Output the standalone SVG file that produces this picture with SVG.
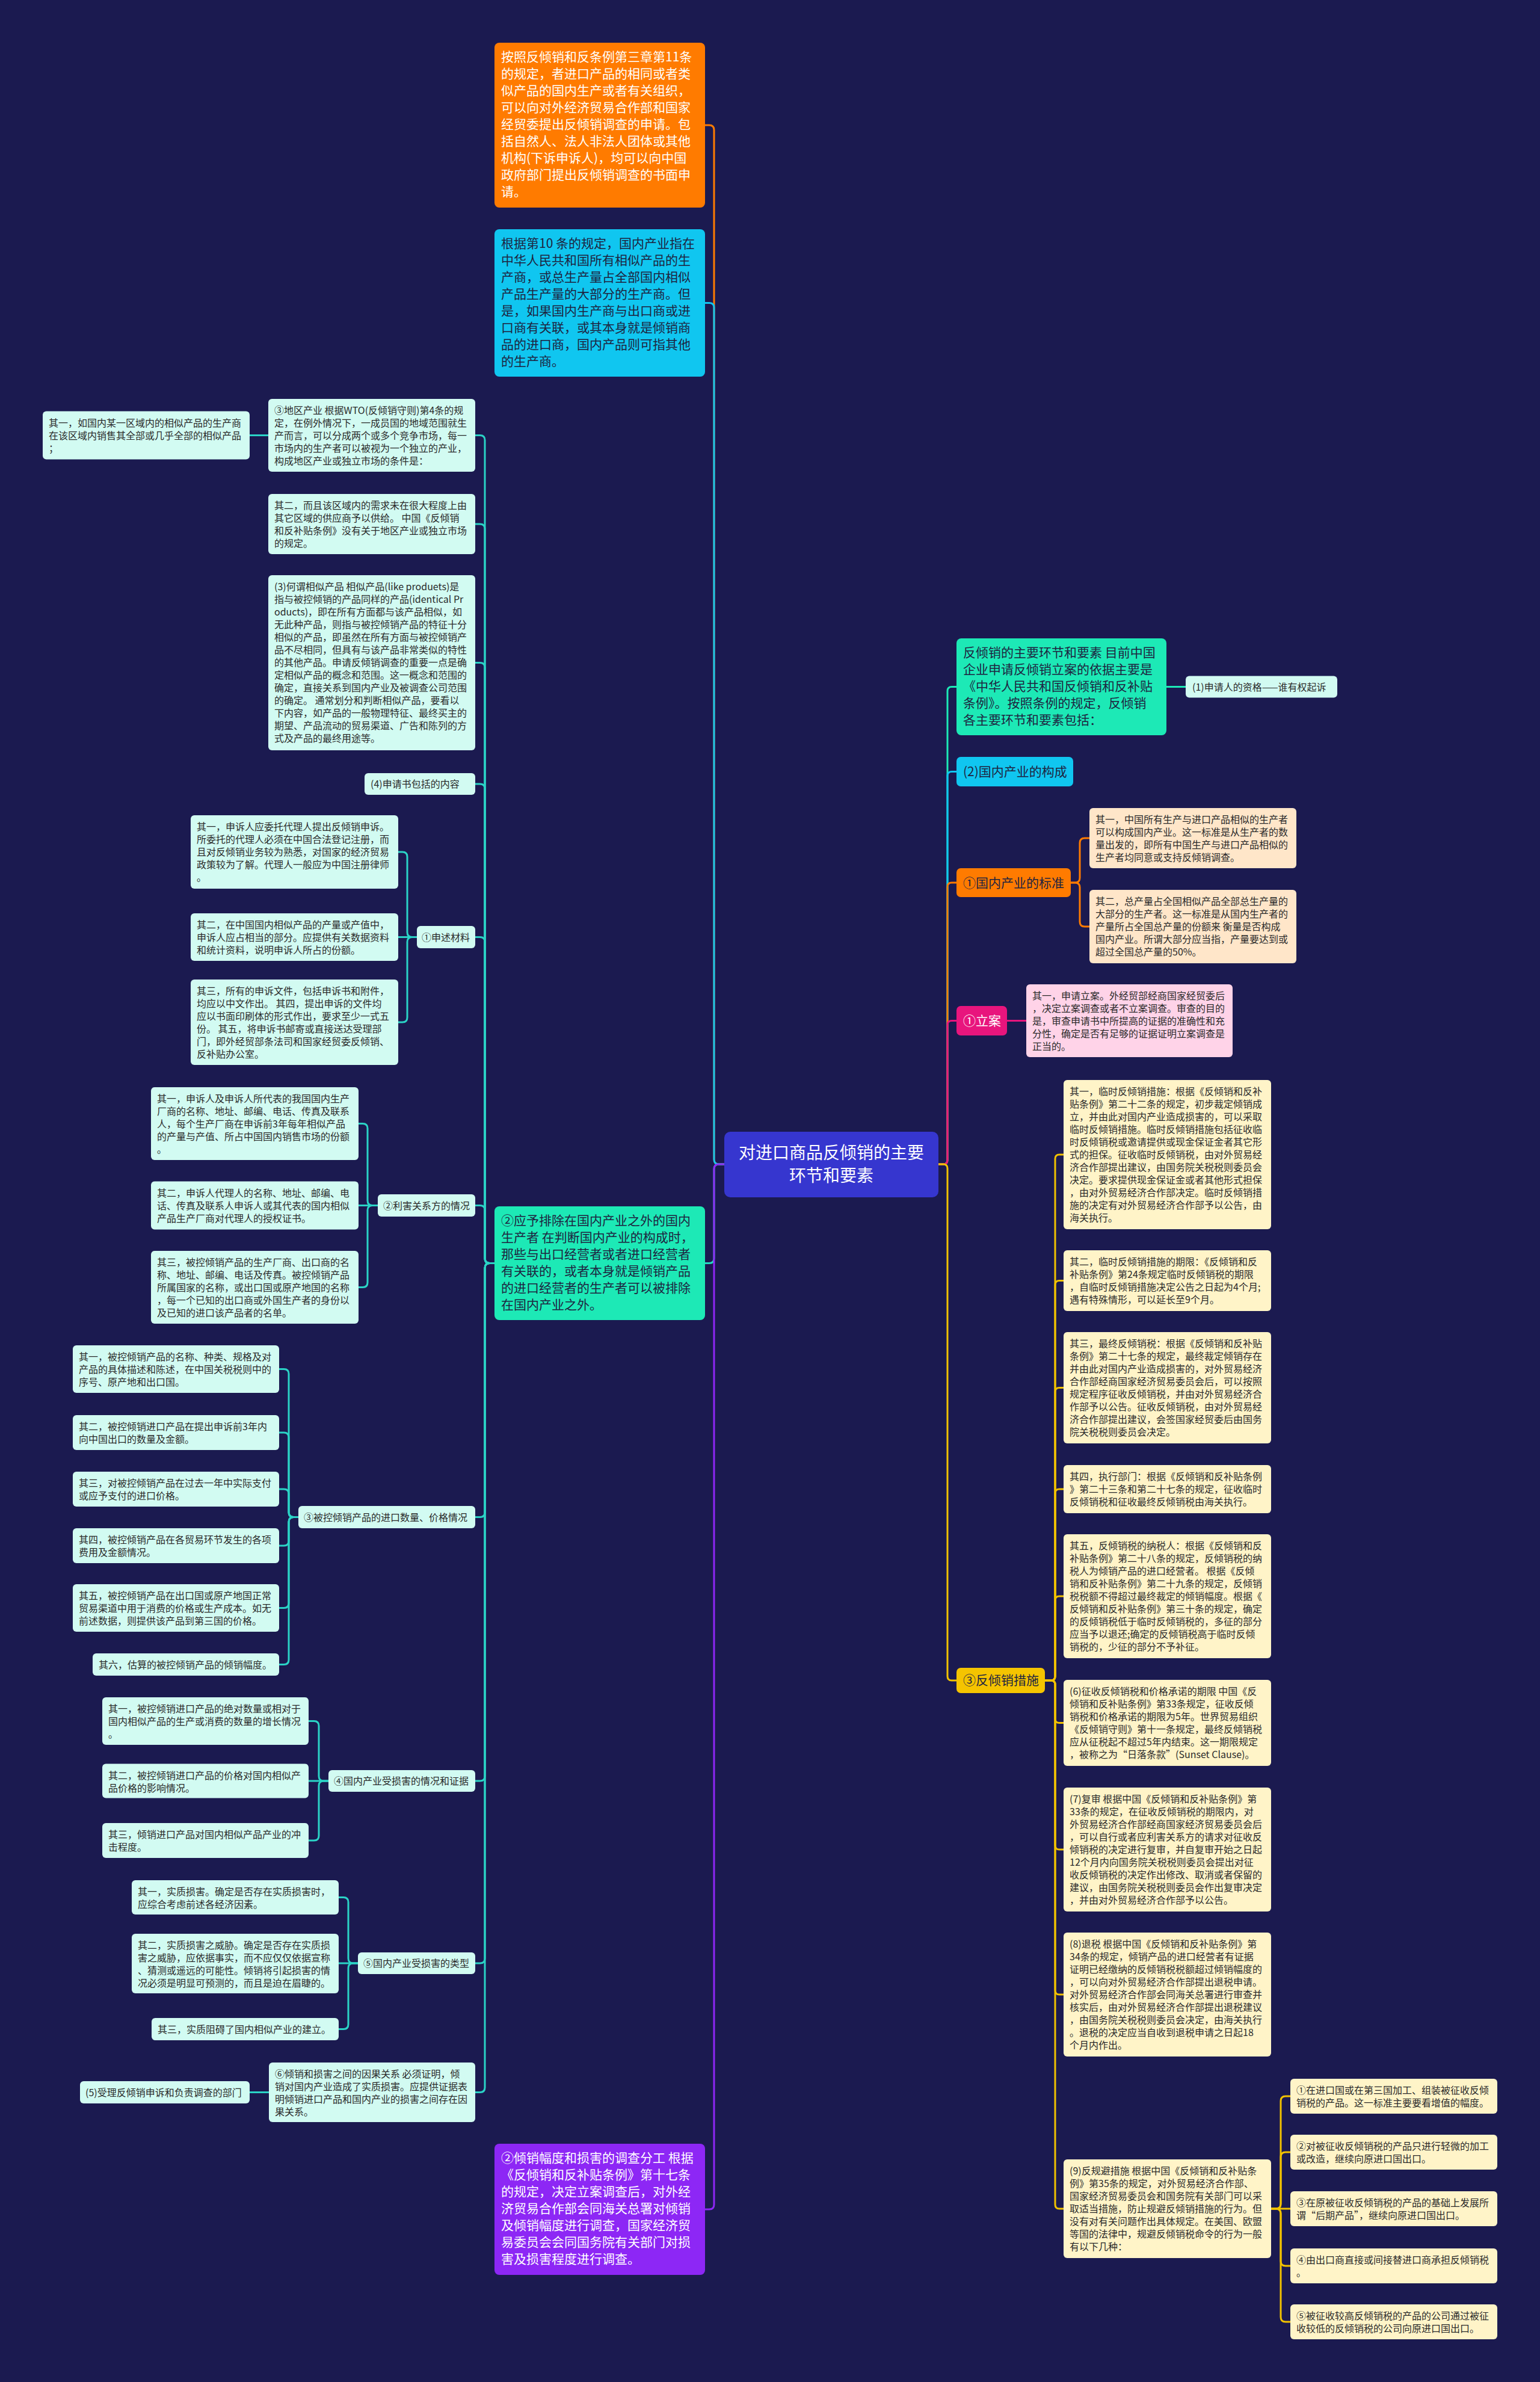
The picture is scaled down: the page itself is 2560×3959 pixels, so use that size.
<svg xmlns="http://www.w3.org/2000/svg" width="2560" height="3959" viewBox="0 0 2560 3959">
<style>
.ln{fill:none;stroke-width:3;stroke-linecap:round;stroke-linejoin:round}
.cOr{stroke:#ff7b00}.cBl{stroke:#10c6f0}.cGr{stroke:#22dcc0}.cPu{stroke:#8d27f5}.cTe{stroke:#2bd3c6}.cPk{stroke:#e8157d}.cYe{stroke:#f2c200}.cMi{stroke:#1de9b6}
text{font-family:"Noto Sans CJK SC","Noto Sans",sans-serif}
.t16{font-size:16px;fill:#2a2a2a}
.t21{font-size:21px;fill:#1e2440}
.tc{font-size:28px;fill:#ffffff}
.wt{fill:#ffffff}
.fMint{fill:#d2fbf2}.fPeach{fill:#ffe6c9}.fPinkL{fill:#ffd3e8}.fCream{fill:#fff4c8}
</style>
<rect x="0" y="0" width="2560" height="3959" fill="#1b1a50"/>

<g id="connectors">
<path class="ln cOr" d="M1204,1935 H1195 Q1187,1935 1187,1927 V216 Q1187,208 1179,208 H1172"/>
<path class="ln cBl" d="M1204,1935 H1195 Q1187,1935 1187,1927 V511.5 Q1187,503.5 1179,503.5 H1172"/>
<path class="ln cGr" d="M1204,1935 H1195 Q1187,1935 1187,1943 V2091.5 Q1187,2099.5 1179,2099.5 H1172"/>
<path class="ln cPu" d="M1204,1935 H1195 Q1187,1935 1187,1943 V3664 Q1187,3672 1179,3672 H1172"/>

<path class="ln cTe" d="M822,2099.5 H814 Q806,2099.5 806,2091.5 V731.5 Q806,723.5 798,723.5 H790"/>
<path class="ln cTe" d="M822,2099.5 H814 Q806,2099.5 806,2091.5 V879 Q806,871 798,871 H790"/>
<path class="ln cTe" d="M822,2099.5 H814 Q806,2099.5 806,2091.5 V1109.5 Q806,1101.5 798,1101.5 H790"/>
<path class="ln cTe" d="M822,2099.5 H814 Q806,2099.5 806,2091.5 V1311 Q806,1303 798,1303 H790"/>
<path class="ln cTe" d="M822,2099.5 H814 Q806,2099.5 806,2091.5 V1565.5 Q806,1557.5 798,1557.5 H790"/>
<path class="ln cTe" d="M822,2099.5 H814 Q806,2099.5 806,2091.5 V2011.5 Q806,2003.5 798,2003.5 H790"/>
<path class="ln cTe" d="M822,2099.5 H814 Q806,2099.5 806,2107.5 V2513.5 Q806,2521.5 798,2521.5 H790"/>
<path class="ln cTe" d="M822,2099.5 H814 Q806,2099.5 806,2107.5 V2952 Q806,2960 798,2960 H790"/>
<path class="ln cTe" d="M822,2099.5 H814 Q806,2099.5 806,2107.5 V3255 Q806,3263 798,3263 H790"/>
<path class="ln cTe" d="M822,2099.5 H814 Q806,2099.5 806,2107.5 V3469.5 Q806,3477.5 798,3477.5 H790"/>

<path class="ln cTe" d="M446,723.5 H415"/>
<path class="ln cTe" d="M693,1557.5 H685 Q677,1557.5 677,1549.5 V1424 Q677,1416 669,1416 H662"/>
<path class="ln cTe" d="M693,1557.5 H662"/>
<path class="ln cTe" d="M693,1557.5 H685 Q677,1557.5 677,1565.5 V1691 Q677,1699 669,1699 H662"/>
<path class="ln cTe" d="M628,2003.5 H619 Q611,2003.5 611,1995.5 V1875.5 Q611,1867.5 603,1867.5 H596"/>
<path class="ln cTe" d="M628,2003.5 H596"/>
<path class="ln cTe" d="M628,2003.5 H619 Q611,2003.5 611,2011.5 V2131.5 Q611,2139.5 603,2139.5 H596"/>
<path class="ln cTe" d="M496,2521.5 H488 Q480,2521.5 480,2513.5 V2283.5 Q480,2275.5 472,2275.5 H464"/>
<path class="ln cTe" d="M496,2521.5 H488 Q480,2521.5 480,2513.5 V2389 Q480,2381 472,2381 H464"/>
<path class="ln cTe" d="M496,2521.5 H488 Q480,2521.5 480,2513.5 V2483 Q480,2475 472,2475 H464"/>
<path class="ln cTe" d="M496,2521.5 H488 Q480,2521.5 480,2529.5 V2561 Q480,2569 472,2569 H464"/>
<path class="ln cTe" d="M496,2521.5 H488 Q480,2521.5 480,2529.5 V2664.5 Q480,2672.5 472,2672.5 H464"/>
<path class="ln cTe" d="M496,2521.5 H488 Q480,2521.5 480,2529.5 V2758.5 Q480,2766.5 472,2766.5 H464"/>
<path class="ln cTe" d="M546,2960 H538 Q530,2960 530,2952 V2868.5 Q530,2860.5 522,2860.5 H513"/>
<path class="ln cTe" d="M546,2960 H513"/>
<path class="ln cTe" d="M546,2960 H538 Q530,2960 530,2968 V3051 Q530,3059 522,3059 H513"/>
<path class="ln cTe" d="M595,3263 H587 Q579,3263 579,3255 V3161.5 Q579,3153.5 571,3153.5 H563"/>
<path class="ln cTe" d="M595,3263 H563"/>
<path class="ln cTe" d="M595,3263 H587 Q579,3263 579,3271 V3364.5 Q579,3372.5 571,3372.5 H563"/>
<path class="ln cTe" d="M447,3477.5 H415"/>

<path class="ln cMi" d="M1560,1935 H1568 Q1575,1935 1575,1928 V1148.5 Q1575,1141.5 1582,1141.5 H1590"/>
<path class="ln cBl" d="M1560,1935 H1568 Q1575,1935 1575,1928 V1289.5 Q1575,1282.5 1582,1282.5 H1590"/>
<path class="ln cOr" d="M1560,1935 H1568 Q1575,1935 1575,1928 V1474 Q1575,1467 1582,1467 H1590"/>
<path class="ln cPk" d="M1560,1935 H1568 Q1575,1935 1575,1928 V1703.5 Q1575,1696.5 1582,1696.5 H1590"/>
<path class="ln cYe" d="M1560,1935 H1568 Q1575,1935 1575,1942 V2786 Q1575,2793 1582,2793 H1590"/>

<path class="ln cMi" d="M1939,1141.5 H1971"/>
<path class="ln cOr" d="M1780,1467 H1787 Q1795,1467 1795,1459 V1401 Q1795,1393 1803,1393 H1811"/>
<path class="ln cOr" d="M1780,1467 H1787 Q1795,1467 1795,1475 V1532 Q1795,1540 1803,1540 H1811"/>
<path class="ln cPk" d="M1674,1696.5 H1706"/>

<path class="ln cYe" d="M1737,2793 H1747 Q1754,2793 1754,2786 V1926 Q1754,1919 1761,1919 H1768"/>
<path class="ln cYe" d="M1737,2793 H1747 Q1754,2793 1754,2786 V2135.5 Q1754,2128.5 1761,2128.5 H1768"/>
<path class="ln cYe" d="M1737,2793 H1747 Q1754,2793 1754,2786 V2313.5 Q1754,2306.5 1761,2306.5 H1768"/>
<path class="ln cYe" d="M1737,2793 H1747 Q1754,2793 1754,2786 V2482 Q1754,2475 1761,2475 H1768"/>
<path class="ln cYe" d="M1737,2793 H1747 Q1754,2793 1754,2786 V2660 Q1754,2653 1761,2653 H1768"/>
<path class="ln cYe" d="M1737,2793 H1747 Q1754,2793 1754,2800 V2856.5 Q1754,2863.5 1761,2863.5 H1768"/>
<path class="ln cYe" d="M1737,2793 H1747 Q1754,2793 1754,2800 V3067 Q1754,3074 1761,3074 H1768"/>
<path class="ln cYe" d="M1737,2793 H1747 Q1754,2793 1754,2800 V3308 Q1754,3315 1761,3315 H1768"/>
<path class="ln cYe" d="M1737,2793 H1747 Q1754,2793 1754,2800 V3664 Q1754,3671 1761,3671 H1768"/>

<path class="ln cYe" d="M2113,3671 H2121 Q2129,3671 2129,3663 V3492 Q2129,3484 2137,3484 H2145"/>
<path class="ln cYe" d="M2113,3671 H2121 Q2129,3671 2129,3663 V3585 Q2129,3577 2137,3577 H2145"/>
<path class="ln cYe" d="M2113,3671 H2145"/>
<path class="ln cYe" d="M2113,3671 H2121 Q2129,3671 2129,3679 V3758 Q2129,3766 2137,3766 H2145"/>
<path class="ln cYe" d="M2113,3671 H2121 Q2129,3671 2129,3679 V3851 Q2129,3859 2137,3859 H2145"/>
</g>

<g id="center">
<rect x="1204" y="1881" width="356" height="109" rx="10" fill="#3636cf"/>
<text class="tc" text-anchor="middle"><tspan x="1382" y="1926">对进口商品反倾销的主要</tspan><tspan x="1382" dy="38">环节和要素</tspan></text>
</g>

<g id="L1">
<rect x="822" y="71" width="350" height="274" rx="8" fill="#ff7b00"/>
<text class="t21 wt"><tspan x="833" y="102">按照反倾销和反条例第三章第11条</tspan><tspan x="833" dy="28">的规定，者进口产品的相同或者类</tspan><tspan x="833" dy="28">似产品的国内生产或者有关组织，</tspan><tspan x="833" dy="28">可以向对外经济贸易合作部和国家</tspan><tspan x="833" dy="28">经贸委提出反倾销调查的申请。包</tspan><tspan x="833" dy="28">括自然人、法人非法人团体或其他</tspan><tspan x="833" dy="28">机构(下诉申诉人)，均可以向中国</tspan><tspan x="833" dy="28">政府部门提出反倾销调查的书面申</tspan><tspan x="833" dy="28">请。</tspan></text>
</g>

<g id="L2">
<rect x="822" y="381" width="350" height="245" rx="8" fill="#10c6f0"/>
<text class="t21"><tspan x="833" y="412">根据第10 条的规定，国内产业指在</tspan><tspan x="833" dy="28">中华人民共和国所有相似产品的生</tspan><tspan x="833" dy="28">产商，或总生产量占全部国内相似</tspan><tspan x="833" dy="28">产品生产量的大部分的生产商。但</tspan><tspan x="833" dy="28">是，如果国内生产商与出口商或进</tspan><tspan x="833" dy="28">口商有关联，或其本身就是倾销商</tspan><tspan x="833" dy="28">品的进口商，国内产品则可指其他</tspan><tspan x="833" dy="28">的生产商。</tspan></text>
</g>

<g id="L3">
<rect x="822" y="2005" width="350" height="189" rx="8" fill="#1de9b6"/>
<text class="t21"><tspan x="833" y="2036">②应予排除在国内产业之外的国内</tspan><tspan x="833" dy="28">生产者 在判断国内产业的构成时，</tspan><tspan x="833" dy="28">那些与出口经营者或者进口经营者</tspan><tspan x="833" dy="28">有关联的，或者本身就是倾销产品</tspan><tspan x="833" dy="28">的进口经营者的生产者可以被排除</tspan><tspan x="833" dy="28">在国内产业之外。</tspan></text>
</g>

<g id="L4">
<rect x="822" y="3563" width="350" height="218" rx="8" fill="#8d27f5"/>
<text class="t21 wt"><tspan x="833" y="3594">②倾销幅度和损害的调查分工 根据</tspan><tspan x="833" dy="28">《反倾销和反补贴条例》第十七条</tspan><tspan x="833" dy="28">的规定，决定立案调查后，对外经</tspan><tspan x="833" dy="28">济贸易合作部会同海关总署对倾销</tspan><tspan x="833" dy="28">及倾销幅度进行调查，国家经济贸</tspan><tspan x="833" dy="28">易委员会会同国务院有关部门对损</tspan><tspan x="833" dy="28">害及损害程度进行调查。</tspan></text>
</g>

<g id="G1">
<rect class="fMint" x="446" y="663" width="344" height="121" rx="6"/>
<text class="t16"><tspan x="456" y="688">③地区产业 根据WTO(反倾销守则)第4条的规</tspan><tspan x="456" dy="21">定，在例外情况下，一成员国的地域范围就生</tspan><tspan x="456" dy="21">产而言，可以分成两个或多个竞争市场，每一</tspan><tspan x="456" dy="21">市场内的生产者可以被视为一个独立的产业，</tspan><tspan x="456" dy="21">构成地区产业或独立市场的条件是：</tspan></text>
</g>
<g id="G1a">
<rect class="fMint" x="71" y="683.5" width="344" height="80" rx="6"/>
<text class="t16"><tspan x="81" y="708.5">其一，如国内某一区域内的相似产品的生产商</tspan><tspan x="81" dy="21">在该区域内销售其全部或几乎全部的相似产品</tspan><tspan x="81" dy="21">；</tspan></text>
</g>
<g id="G2">
<rect class="fMint" x="446" y="821" width="344" height="100" rx="6"/>
<text class="t16"><tspan x="456" y="846">其二，而且该区域内的需求未在很大程度上由</tspan><tspan x="456" dy="21">其它区域的供应商予以供给。 中国《反倾销</tspan><tspan x="456" dy="21">和反补贴条例》没有关于地区产业或独立市场</tspan><tspan x="456" dy="21">的规定。</tspan></text>
</g>
<g id="G3">
<rect class="fMint" x="446" y="956" width="344" height="291" rx="6"/>
<text class="t16"><tspan x="456" y="981">(3)何谓相似产品 相似产品(like produets)是</tspan><tspan x="456" dy="21">指与被控倾销的产品同样的产品(identical Pr</tspan><tspan x="456" dy="21">oducts)，即在所有方面都与该产品相似，如</tspan><tspan x="456" dy="21">无此种产品，则指与被控倾销产品的特征十分</tspan><tspan x="456" dy="21">相似的产品，即虽然在所有方面与被控倾销产</tspan><tspan x="456" dy="21">品不尽相同，但具有与该产品非常类似的特性</tspan><tspan x="456" dy="21">的其他产品。申请反倾销调查的重要一点是确</tspan><tspan x="456" dy="21">定相似产品的概念和范围。这一概念和范围的</tspan><tspan x="456" dy="21">确定，直接关系到国内产业及被调查公司范围</tspan><tspan x="456" dy="21">的确定。 通常划分和判断相似产品，要看以</tspan><tspan x="456" dy="21">下内容，如产品的一般物理特征、最终买主的</tspan><tspan x="456" dy="21">期望、产品流动的贸易渠道、广告和陈列的方</tspan><tspan x="456" dy="21">式及产品的最终用途等。</tspan></text>
</g>
<g id="G4">
<rect class="fMint" x="606" y="1285" width="184" height="36" rx="6"/>
<text class="t16" x="616" y="1309">(4)申请书包括的内容</text>
</g>
<g id="G5">
<rect class="fMint" x="693" y="1539" width="97" height="37" rx="6"/>
<text class="t16" x="701" y="1564">①申述材料</text>
</g>
<g id="G5a">
<rect class="fMint" x="317" y="1355" width="345" height="122" rx="6"/>
<text class="t16"><tspan x="327" y="1380">其一，申诉人应委托代理人提出反倾销申诉。</tspan><tspan x="327" dy="21">所委托的代理人必须在中国合法登记注册，而</tspan><tspan x="327" dy="21">且对反倾销业务较为熟悉，对国家的经济贸易</tspan><tspan x="327" dy="21">政策较为了解。代理人一般应为中国注册律师</tspan><tspan x="327" dy="21">。</tspan></text>
</g>
<g id="G5b">
<rect class="fMint" x="317" y="1518" width="345" height="79" rx="6"/>
<text class="t16"><tspan x="327" y="1543">其二，在中国国内相似产品的产量或产值中，</tspan><tspan x="327" dy="21">申诉人应占相当的部分。应提供有关数据资料</tspan><tspan x="327" dy="21">和统计资料，说明申诉人所占的份额。</tspan></text>
</g>
<g id="G5c">
<rect class="fMint" x="317" y="1628" width="345" height="142" rx="6"/>
<text class="t16"><tspan x="327" y="1653">其三，所有的申诉文件，包括申诉书和附件，</tspan><tspan x="327" dy="21">均应以中文作出。 其四，提出申诉的文件均</tspan><tspan x="327" dy="21">应以书面印刷体的形式作出，要求至少一式五</tspan><tspan x="327" dy="21">份。 其五，将申诉书邮寄或直接送达受理部</tspan><tspan x="327" dy="21">门，即外经贸部条法司和国家经贸委反倾销、</tspan><tspan x="327" dy="21">反补贴办公室。</tspan></text>
</g>
<g id="G6">
<rect class="fMint" x="628" y="1985" width="162" height="37" rx="6"/>
<text class="t16" x="637" y="2010">②利害关系方的情况</text>
</g>
<g id="G6a">
<rect class="fMint" x="251" y="1807" width="345" height="121" rx="6"/>
<text class="t16"><tspan x="261" y="1832">其一，申诉人及申诉人所代表的我国国内生产</tspan><tspan x="261" dy="21">厂商的名称、地址、邮编、电话、传真及联系</tspan><tspan x="261" dy="21">人，每个生产厂商在申诉前3年每年相似产品</tspan><tspan x="261" dy="21">的产量与产值、所占中国国内销售市场的份额</tspan><tspan x="261" dy="21">。</tspan></text>
</g>
<g id="G6b">
<rect class="fMint" x="251" y="1963.5" width="345" height="80" rx="6"/>
<text class="t16"><tspan x="261" y="1988.5">其二，申诉人代理人的名称、地址、邮编、电</tspan><tspan x="261" dy="21">话、传真及联系人申诉人或其代表的国内相似</tspan><tspan x="261" dy="21">产品生产厂商对代理人的授权证书。</tspan></text>
</g>
<g id="G6c">
<rect class="fMint" x="251" y="2079" width="345" height="121" rx="6"/>
<text class="t16"><tspan x="261" y="2104">其三，被控倾销产品的生产厂商、出口商的名</tspan><tspan x="261" dy="21">称、地址、邮编、电话及传真。被控倾销产品</tspan><tspan x="261" dy="21">所属国家的名称，或出口国或原产地国的名称</tspan><tspan x="261" dy="21">，每一个已知的出口商或外国生产者的身份以</tspan><tspan x="261" dy="21">及已知的进口该产品者的名单。</tspan></text>
</g>
<g id="G7">
<rect class="fMint" x="496" y="2503" width="294" height="37" rx="6"/>
<text class="t16" x="505" y="2528">③被控倾销产品的进口数量、价格情况</text>
</g>
<g id="G7a">
<rect class="fMint" x="121" y="2236" width="343" height="79" rx="6"/>
<text class="t16"><tspan x="131" y="2261">其一，被控倾销产品的名称、种类、规格及对</tspan><tspan x="131" dy="21">产品的具体描述和陈述，在中国关税税则中的</tspan><tspan x="131" dy="21">序号、原产地和出口国。</tspan></text>
</g>
<g id="G7b">
<rect class="fMint" x="121" y="2352" width="343" height="58" rx="6"/>
<text class="t16"><tspan x="131" y="2377">其二，被控倾销进口产品在提出申诉前3年内</tspan><tspan x="131" dy="21">向中国出口的数量及金额。</tspan></text>
</g>
<g id="G7c">
<rect class="fMint" x="121" y="2446" width="343" height="58" rx="6"/>
<text class="t16"><tspan x="131" y="2471">其三，对被控倾销产品在过去一年中实际支付</tspan><tspan x="131" dy="21">或应予支付的进口价格。</tspan></text>
</g>
<g id="G7d">
<rect class="fMint" x="121" y="2540" width="343" height="58" rx="6"/>
<text class="t16"><tspan x="131" y="2565">其四，被控倾销产品在各贸易环节发生的各项</tspan><tspan x="131" dy="21">费用及金额情况。</tspan></text>
</g>
<g id="G7e">
<rect class="fMint" x="121" y="2633" width="343" height="79" rx="6"/>
<text class="t16"><tspan x="131" y="2658">其五，被控倾销产品在出口国或原产地国正常</tspan><tspan x="131" dy="21">贸易渠道中用于消费的价格或生产成本。如无</tspan><tspan x="131" dy="21">前述数据，则提供该产品到第三国的价格。</tspan></text>
</g>
<g id="G7f">
<rect class="fMint" x="154" y="2748" width="310" height="37" rx="6"/>
<text class="t16" x="164" y="2773">其六，估算的被控倾销产品的倾销幅度。</text>
</g>
<g id="G8">
<rect class="fMint" x="546" y="2942" width="244" height="36" rx="6"/>
<text class="t16" x="555" y="2966">④国内产业受损害的情况和证据</text>
</g>
<g id="G8a">
<rect class="fMint" x="170" y="2821" width="343" height="79" rx="6"/>
<text class="t16"><tspan x="180" y="2846">其一，被控倾销进口产品的绝对数量或相对于</tspan><tspan x="180" dy="21">国内相似产品的生产或消费的数量的增长情况</tspan><tspan x="180" dy="21">。</tspan></text>
</g>
<g id="G8b">
<rect class="fMint" x="170" y="2931.5" width="343" height="57" rx="6"/>
<text class="t16"><tspan x="180" y="2956.5">其二，被控倾销进口产品的价格对国内相似产</tspan><tspan x="180" dy="21">品价格的影响情况。</tspan></text>
</g>
<g id="G8c">
<rect class="fMint" x="170" y="3030" width="343" height="58" rx="6"/>
<text class="t16"><tspan x="180" y="3055">其三，倾销进口产品对国内相似产品产业的冲</tspan><tspan x="180" dy="21">击程度。</tspan></text>
</g>
<g id="G9">
<rect class="fMint" x="595" y="3245" width="195" height="36" rx="6"/>
<text class="t16" x="604" y="3269">⑤国内产业受损害的类型</text>
</g>
<g id="G9a">
<rect class="fMint" x="219" y="3125" width="344" height="57" rx="6"/>
<text class="t16"><tspan x="229" y="3150">其一，实质损害。确定是否存在实质损害时，</tspan><tspan x="229" dy="21">应综合考虑前述各经济因素。</tspan></text>
</g>
<g id="G9b">
<rect class="fMint" x="219" y="3214" width="344" height="99" rx="6"/>
<text class="t16"><tspan x="229" y="3239">其二，实质损害之威胁。确定是否存在实质损</tspan><tspan x="229" dy="21">害之威胁，应依据事实，而不应仅仅依据宣称</tspan><tspan x="229" dy="21">、猜测或遥远的可能性。倾销将引起损害的情</tspan><tspan x="229" dy="21">况必须是明显可预测的，而且是迫在眉睫的。</tspan></text>
</g>
<g id="G9c">
<rect class="fMint" x="252" y="3354" width="311" height="37" rx="6"/>
<text class="t16" x="262" y="3379">其三，实质阻碍了国内相似产业的建立。</text>
</g>
<g id="G10">
<rect class="fMint" x="447" y="3428" width="343" height="99" rx="6"/>
<text class="t16"><tspan x="457" y="3453">⑥倾销和损害之间的因果关系 必须证明，倾</tspan><tspan x="457" dy="21">销对国内产业造成了实质损害。应提供证据表</tspan><tspan x="457" dy="21">明倾销进口产品和国内产业的损害之间存在因</tspan><tspan x="457" dy="21">果关系。</tspan></text>
</g>
<g id="G10a">
<rect class="fMint" x="133" y="3459" width="282" height="37" rx="6"/>
<text class="t16" x="142" y="3484">(5)受理反倾销申诉和负责调查的部门</text>
</g>

<g id="R1">
<rect x="1590" y="1061" width="349" height="161" rx="8" fill="#1de9b6"/>
<text class="t21"><tspan x="1601" y="1092">反倾销的主要环节和要素 目前中国</tspan><tspan x="1601" dy="28">企业申请反倾销立案的依据主要是</tspan><tspan x="1601" dy="28">《中华人民共和国反倾销和反补贴</tspan><tspan x="1601" dy="28">条例》。按照条例的规定，反倾销</tspan><tspan x="1601" dy="28">各主要环节和要素包括：</tspan></text>
</g>
<g id="R1a">
<rect class="fMint" x="1971" y="1123.5" width="252" height="36" rx="6"/>
<text class="t16" x="1982" y="1148">(1)申请人的资格——谁有权起诉</text>
</g>
<g id="R2">
<rect x="1590" y="1258" width="194" height="49" rx="7" fill="#10c6f0"/>
<text class="t21" x="1601" y="1290">(2)国内产业的构成</text>
</g>
<g id="R3">
<rect x="1590" y="1443" width="190" height="48" rx="7" fill="#ff7b00"/>
<text class="t21" x="1601" y="1475">①国内产业的标准</text>
</g>
<g id="R3a">
<rect class="fPeach" x="1811" y="1343" width="344" height="100" rx="6"/>
<text class="t16"><tspan x="1821" y="1368">其一，中国所有生产与进口产品相似的生产者</tspan><tspan x="1821" dy="21">可以构成国内产业。这一标准是从生产者的数</tspan><tspan x="1821" dy="21">量出发的，即所有中国生产与进口产品相似的</tspan><tspan x="1821" dy="21">生产者均同意或支持反倾销调查。</tspan></text>
</g>
<g id="R3b">
<rect class="fPeach" x="1811" y="1479" width="344" height="122" rx="6"/>
<text class="t16"><tspan x="1821" y="1504">其二，总产量占全国相似产品全部总生产量的</tspan><tspan x="1821" dy="21">大部分的生产者。这一标准是从国内生产者的</tspan><tspan x="1821" dy="21">产量所占全国总产量的份额来 衡量是否构成</tspan><tspan x="1821" dy="21">国内产业。所谓大部分应当指，产量要达到或</tspan><tspan x="1821" dy="21">超过全国总产量的50%。</tspan></text>
</g>
<g id="R4">
<rect x="1590" y="1672" width="84" height="49" rx="7" fill="#e8157d"/>
<text class="t21 wt" x="1601" y="1704">①立案</text>
</g>
<g id="R4a">
<rect class="fPinkL" x="1706" y="1636" width="343" height="121" rx="6"/>
<text class="t16"><tspan x="1716" y="1661">其一，申请立案。外经贸部经商国家经贸委后</tspan><tspan x="1716" dy="21">，决定立案调查或者不立案调查。审查的目的</tspan><tspan x="1716" dy="21">是，审查申请书中所提高的证据的准确性和充</tspan><tspan x="1716" dy="21">分性，确定是否有足够的证据证明立案调查是</tspan><tspan x="1716" dy="21">正当的。</tspan></text>
</g>
<g id="R5">
<rect x="1590" y="2772" width="147" height="42" rx="7" fill="#f5c400"/>
<text class="t21" x="1601" y="2800">③反倾销措施</text>
</g>
<g id="Y1">
<rect class="fCream" x="1768" y="1795" width="345" height="248" rx="6"/>
<text class="t16"><tspan x="1778" y="1820">其一，临时反倾销措施：根据《反倾销和反补</tspan><tspan x="1778" dy="21">贴条例》第二十二条的规定，初步裁定倾销成</tspan><tspan x="1778" dy="21">立，并由此对国内产业造成损害的，可以采取</tspan><tspan x="1778" dy="21">临时反倾销措施。临时反倾销措施包括征收临</tspan><tspan x="1778" dy="21">时反倾销税或邀请提供或现金保证金者其它形</tspan><tspan x="1778" dy="21">式的担保。征收临时反倾销税，由对外贸易经</tspan><tspan x="1778" dy="21">济合作部提出建议，由国务院关税税则委员会</tspan><tspan x="1778" dy="21">决定。要求提供现金保证金或者其他形式担保</tspan><tspan x="1778" dy="21">，由对外贸易经济合作部决定。临时反倾销措</tspan><tspan x="1778" dy="21">施的决定有对外贸易经济合作部予以公告，由</tspan><tspan x="1778" dy="21">海关执行。</tspan></text>
</g>
<g id="Y2">
<rect class="fCream" x="1768" y="2078" width="345" height="101" rx="6"/>
<text class="t16"><tspan x="1778" y="2103">其二，临时反倾销措施的期限：《反倾销和反</tspan><tspan x="1778" dy="21">补贴条例》第24条规定临时反倾销税的期限</tspan><tspan x="1778" dy="21">，自临时反倾销措施决定公告之日起为4个月;</tspan><tspan x="1778" dy="21">遇有特殊情形，可以延长至9个月。</tspan></text>
</g>
<g id="Y3">
<rect class="fCream" x="1768" y="2214" width="345" height="185" rx="6"/>
<text class="t16"><tspan x="1778" y="2239">其三，最终反倾销税：根据《反倾销和反补贴</tspan><tspan x="1778" dy="21">条例》第二十七条的规定，最终裁定倾销存在</tspan><tspan x="1778" dy="21">并由此对国内产业造成损害的，对外贸易经济</tspan><tspan x="1778" dy="21">合作部经商国家经济贸易委员会后，可以按照</tspan><tspan x="1778" dy="21">规定程序征收反倾销税，并由对外贸易经济合</tspan><tspan x="1778" dy="21">作部予以公告。征收反倾销税，由对外贸易经</tspan><tspan x="1778" dy="21">济合作部提出建议，会签国家经贸委后由国务</tspan><tspan x="1778" dy="21">院关税税则委员会决定。</tspan></text>
</g>
<g id="Y4">
<rect class="fCream" x="1768" y="2435" width="345" height="80" rx="6"/>
<text class="t16"><tspan x="1778" y="2460">其四，执行部门：根据《反倾销和反补贴条例</tspan><tspan x="1778" dy="21">》第二十三条和第二十七条的规定，征收临时</tspan><tspan x="1778" dy="21">反倾销税和征收最终反倾销税由海关执行。</tspan></text>
</g>
<g id="Y5">
<rect class="fCream" x="1768" y="2550" width="345" height="206" rx="6"/>
<text class="t16"><tspan x="1778" y="2575">其五，反倾销税的纳税人：根据《反倾销和反</tspan><tspan x="1778" dy="21">补贴条例》第二十八条的规定，反倾销税的纳</tspan><tspan x="1778" dy="21">税人为倾销产品的进口经营者。 根据《反倾</tspan><tspan x="1778" dy="21">销和反补贴条例》第二十九条的规定，反倾销</tspan><tspan x="1778" dy="21">税税额不得超过最终裁定的倾销幅度。根据《</tspan><tspan x="1778" dy="21">反倾销和反补贴条例》第三十条的规定，确定</tspan><tspan x="1778" dy="21">的反倾销税低于临时反倾销税的，多征的部分</tspan><tspan x="1778" dy="21">应当予以退还;确定的反倾销税高于临时反倾</tspan><tspan x="1778" dy="21">销税的，少征的部分不予补征。</tspan></text>
</g>
<g id="Y6">
<rect class="fCream" x="1768" y="2792" width="345" height="143" rx="6"/>
<text class="t16"><tspan x="1778" y="2817">(6)征收反倾销税和价格承诺的期限 中国《反</tspan><tspan x="1778" dy="21">倾销和反补贴条例》第33条规定，征收反倾</tspan><tspan x="1778" dy="21">销税和价格承诺的期限为5年。世界贸易组织</tspan><tspan x="1778" dy="21">《反倾销守则》第十一条规定，最终反倾销税</tspan><tspan x="1778" dy="21">应从征税起不超过5年内结束。这一期限规定</tspan><tspan x="1778" dy="21">，被称之为“日落条款”(Sunset Clause)。</tspan></text>
</g>
<g id="Y7">
<rect class="fCream" x="1768" y="2971" width="345" height="206" rx="6"/>
<text class="t16"><tspan x="1778" y="2996">(7)复审 根据中国《反倾销和反补贴条例》第</tspan><tspan x="1778" dy="21">33条的规定，在征收反倾销税的期限内，对</tspan><tspan x="1778" dy="21">外贸易经济合作部经商国家经济贸易委员会后</tspan><tspan x="1778" dy="21">，可以自行或者应利害关系方的请求对征收反</tspan><tspan x="1778" dy="21">倾销税的决定进行复审，并自复审开始之日起</tspan><tspan x="1778" dy="21">12个月内向国务院关税税则委员会提出对征</tspan><tspan x="1778" dy="21">收反倾销税的决定作出修改、取消或者保留的</tspan><tspan x="1778" dy="21">建议，由国务院关税税则委员会作出复审决定</tspan><tspan x="1778" dy="21">，并由对外贸易经济合作部予以公告。</tspan></text>
</g>
<g id="Y8">
<rect class="fCream" x="1768" y="3212" width="345" height="206" rx="6"/>
<text class="t16"><tspan x="1778" y="3237">(8)退税 根据中国《反倾销和反补贴条例》第</tspan><tspan x="1778" dy="21">34条的规定，倾销产品的进口经营者有证据</tspan><tspan x="1778" dy="21">证明已经缴纳的反倾销税税额超过倾销幅度的</tspan><tspan x="1778" dy="21">，可以向对外贸易经济合作部提出退税申请。</tspan><tspan x="1778" dy="21">对外贸易经济合作部会同海关总署进行审查并</tspan><tspan x="1778" dy="21">核实后，由对外贸易经济合作部提出退税建议</tspan><tspan x="1778" dy="21">，由国务院关税税则委员会决定，由海关执行</tspan><tspan x="1778" dy="21">。退税的决定应当自收到退税申请之日起18</tspan><tspan x="1778" dy="21">个月内作出。</tspan></text>
</g>
<g id="Y9">
<rect class="fCream" x="1768" y="3589" width="345" height="164" rx="6"/>
<text class="t16"><tspan x="1778" y="3614">(9)反规避措施 根据中国《反倾销和反补贴条</tspan><tspan x="1778" dy="21">例》第35条的规定，对外贸易经济合作部、</tspan><tspan x="1778" dy="21">国家经济贸易委员会和国务院有关部门可以采</tspan><tspan x="1778" dy="21">取适当措施，防止规避反倾销措施的行为。但</tspan><tspan x="1778" dy="21">没有对有关问题作出具体规定。在美国、欧盟</tspan><tspan x="1778" dy="21">等国的法律中，规避反倾销税命令的行为一般</tspan><tspan x="1778" dy="21">有以下几种：</tspan></text>
</g>
<g id="Y9a">
<rect class="fCream" x="2145" y="3455" width="344" height="58" rx="6"/>
<text class="t16"><tspan x="2155" y="3480">①在进口国或在第三国加工、组装被征收反倾</tspan><tspan x="2155" dy="21">销税的产品。这一标准主要要看增值的幅度。</tspan></text>
</g>
<g id="Y9b">
<rect class="fCream" x="2145" y="3548" width="344" height="58" rx="6"/>
<text class="t16"><tspan x="2155" y="3573">②对被征收反倾销税的产品只进行轻微的加工</tspan><tspan x="2155" dy="21">或改造，继续向原进口国出口。</tspan></text>
</g>
<g id="Y9c">
<rect class="fCream" x="2145" y="3642" width="344" height="58" rx="6"/>
<text class="t16"><tspan x="2155" y="3667">③在原被征收反倾销税的产品的基础上发展所</tspan><tspan x="2155" dy="21">谓“后期产品”，继续向原进口国出口。</tspan></text>
</g>
<g id="Y9d">
<rect class="fCream" x="2145" y="3737" width="344" height="58" rx="6"/>
<text class="t16"><tspan x="2155" y="3762">④由出口商直接或间接替进口商承担反倾销税</tspan><tspan x="2155" dy="21">。</tspan></text>
</g>
<g id="Y9e">
<rect class="fCream" x="2145" y="3830" width="344" height="58" rx="6"/>
<text class="t16"><tspan x="2155" y="3855">⑤被征收较高反倾销税的产品的公司通过被征</tspan><tspan x="2155" dy="21">收较低的反倾销税的公司向原进口国出口。</tspan></text>
</g>
</svg>
